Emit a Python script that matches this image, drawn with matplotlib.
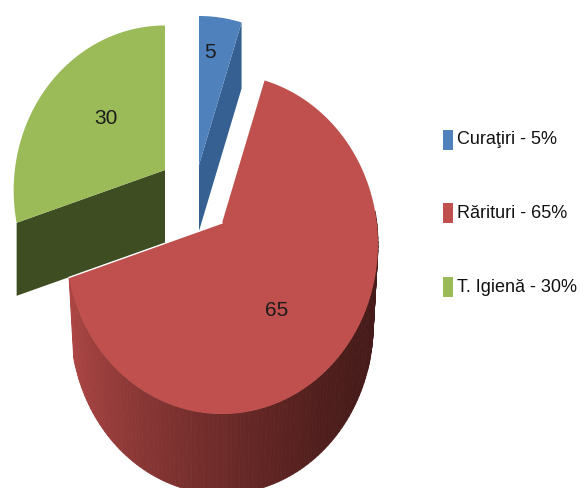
import matplotlib
matplotlib.use('Agg')
import matplotlib.pyplot as plt
import numpy as np

# dados
categorias = ['Curaţiri', 'Rărituri', 'T. Igienă']
valores = [5, 65, 30]
cores_topo = ['#4f81bd', '#c0504d', '#9bbb59']
cores_lado = ['#366092', '#a8443f', '#3f4d22']

# geometria do pie 3D (em pixels da imagem)
RAIO_X = 156
RAIO_Y = 170
DESVIO_Y = 21
apices = [(199, 165), (222, 223), (165, 170)]
escalas = [1.0, 1.0, 0.97]
profundidades = [66, 80, 73]
legenda_y = [140, 213, 287]
rotulo_pos = [(210, 53), (277, 310), (106, 118)]
fonte = 'Liberation Sans'


def aresta(apice, escala, graus):
    # ponto da borda da fatia; o seno deforma o angulo como a perspectiva do original
    t = np.radians(graus)
    p = np.radians(graus - 7 * np.sin(t))
    x = apice[0] + escala * RAIO_X * np.sin(p)
    y = apice[1] + escala * (DESVIO_Y - RAIO_Y * np.cos(p))
    return x, y


fig = plt.figure(figsize=(5.85, 4.88), dpi=100)
ax = fig.add_axes([0, 0, 1, 1])
ax.set_xlim(0, 585)
ax.set_ylim(488, 0)
ax.axis('off')

limites = np.cumsum([0] + valores) * 360 / sum(valores)

# ordem: azul, verde, vermelho (o vermelho fica na frente)
for i in [0, 2, 1]:
    ini, fim = limites[i], limites[i + 1]
    ap = apices[i]
    esc = escalas[i]
    prof = profundidades[i]
    graus = np.linspace(ini, fim, 160)
    xs, ys = aresta(ap, esc, graus)

    if i == 1:
        # parede curva com degrade, da esquerda clara para a direita escura
        vis = graus >= 85
        gx, gy = xs[vis], ys[vis]
        cx = ap[0] + (gx - ap[0]) * 0.97
        cy = gy + prof
        claro = np.array(matplotlib.colors.to_rgb('#ad4644'))
        escuro = np.array(matplotlib.colors.to_rgb('#471b19'))
        for k in range(len(gx) - 1):
            f = np.clip((gx[k] - 70) / 290, 0, 1) ** 0.75
            cor = claro * (1 - f) + escuro * f
            ax.fill([gx[k], gx[k + 1], cx[k + 1], cx[k]],
                    [gy[k], gy[k + 1], cy[k + 1], cy[k]],
                    color=cor, lw=0.6, zorder=2)
    else:
        # face do corte, visivel porque a fatia esta destacada
        borda = (xs[0], ys[0]) if i == 2 else (xs[-1], ys[-1])
        ax.fill([ap[0], borda[0], borda[0], ap[0]],
                [ap[1], borda[1], borda[1] + prof, ap[1] + prof],
                color=cores_lado[i], lw=0, zorder=1)

    ax.fill(np.r_[ap[0], xs], np.r_[ap[1], ys], color=cores_topo[i], lw=0, zorder=3 if i == 1 else 1.5)

    if i == 1:
        ax.plot([ap[0], xs[-1]], [ap[1], ys[-1]], color='white', lw=1.0, zorder=4)

    rx, ry = rotulo_pos[i]
    ax.text(rx, ry, str(valores[i]), fontsize=15, family=fonte, color='#1c1c1c',
            ha='center', va='center', zorder=5)

# legenda
for i, nome in enumerate(categorias):
    ax.add_patch(plt.Rectangle((443, legenda_y[i] - 10), 10, 20, color=cores_topo[i], lw=0))
    ax.text(457, legenda_y[i], f'{nome} - {valores[i]}%', fontsize=13, family=fonte,
            color='#111111', ha='left', va='center')

fig.savefig('out.png', dpi=100)
